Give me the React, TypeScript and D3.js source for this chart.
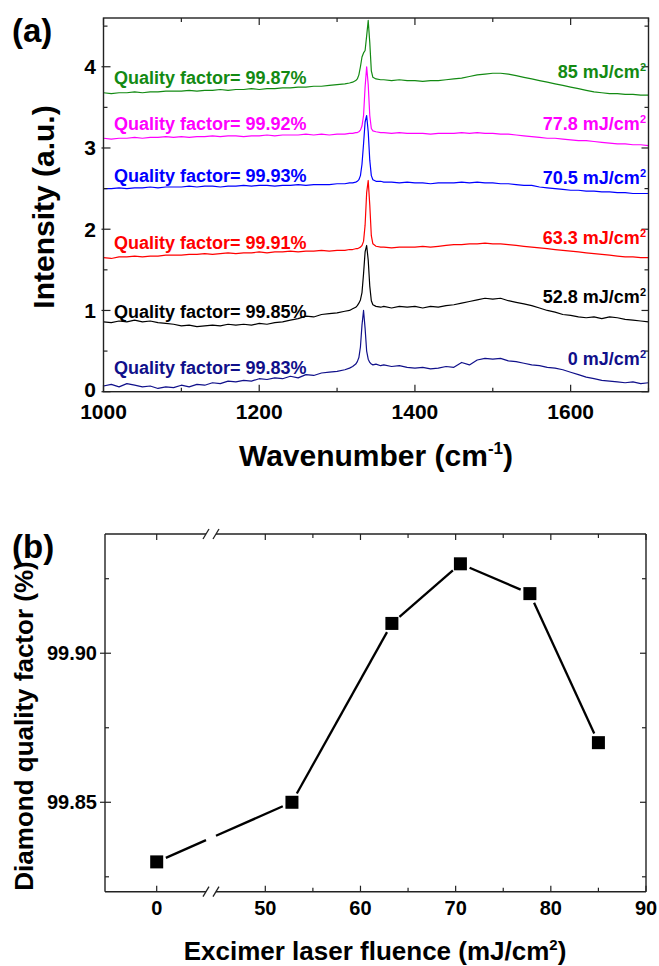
import React from "react";
import * as d3 from "d3";

// ---- Raman spectra (panel a) ----
const wavenumbers = [
  1000, 1010, 1020, 1030, 1040, 1050, 1060, 1070, 1080, 1090,
  1100, 1110, 1120, 1130, 1140, 1150, 1160, 1170, 1180, 1190,
  1200, 1210, 1220, 1230, 1240, 1250, 1260, 1270, 1280, 1290,
  1300, 1310,
  1316, 1320, 1324, 1326, 1328, 1330, 1332, 1334, 1336, 1338,
  1340, 1342, 1344, 1346, 1350, 1356,
  1360, 1370, 1380, 1390, 1400, 1410, 1420, 1430, 1440, 1450,
  1460, 1470, 1480, 1490, 1500, 1510, 1520, 1530, 1540, 1550,
  1560, 1570, 1580, 1590, 1600, 1610, 1620, 1630, 1640, 1650,
  1660, 1670, 1680, 1690, 1700,
];

const spectrum0 = [
  0.07, 0.09, 0.06, 0.10, 0.08, 0.06, 0.07, 0.04, 0.06, 0.05,
  0.08, 0.06, 0.09, 0.08, 0.11, 0.10, 0.13, 0.12, 0.14, 0.13,
  0.16, 0.15, 0.17, 0.16, 0.19, 0.17, 0.21, 0.20, 0.23, 0.24,
  0.25, 0.27,
  0.29, 0.31, 0.34, 0.37, 0.42, 0.55, 0.82, 1.00, 0.78, 0.50,
  0.40, 0.36, 0.34, 0.33, 0.34, 0.32,
  0.33, 0.31, 0.32, 0.30, 0.29, 0.30, 0.28, 0.29, 0.31, 0.30,
  0.36, 0.33, 0.39, 0.41, 0.40, 0.41, 0.38, 0.37, 0.35, 0.33,
  0.32, 0.30, 0.29, 0.27, 0.24, 0.21, 0.18, 0.16, 0.14, 0.13,
  0.12, 0.11, 0.12, 0.10, 0.11,
];

const spectrum52 = [
  0.86, 0.85, 0.87, 0.86, 0.88, 0.86, 0.87, 0.85, 0.84, 0.83,
  0.81, 0.82, 0.80, 0.81, 0.82, 0.81, 0.83, 0.82, 0.83, 0.82,
  0.84, 0.83, 0.85, 0.86, 0.88, 0.90, 0.93, 0.92, 0.95, 0.96,
  0.97, 0.99,
  1.00, 1.02, 1.04, 1.06, 1.09, 1.13, 1.22, 1.45, 1.72, 1.80,
  1.62, 1.30, 1.12, 1.07, 1.05, 1.04,
  1.05, 1.03, 1.05, 1.04, 1.05, 1.03, 1.05, 1.04, 1.06, 1.07,
  1.09, 1.11, 1.13, 1.15, 1.14, 1.15, 1.12, 1.10, 1.08, 1.06,
  1.03, 1.00, 0.98, 0.95, 0.94, 0.92, 0.91, 0.92, 0.90, 0.92,
  0.91, 0.89, 0.88, 0.87, 0.86,
];

const spectrum63 = [
  1.65, 1.64, 1.66, 1.66, 1.67, 1.66, 1.67, 1.67, 1.68, 1.68,
  1.68, 1.69, 1.69, 1.70, 1.69, 1.70, 1.71, 1.70, 1.71, 1.71,
  1.72, 1.71, 1.72, 1.72, 1.73, 1.72, 1.73, 1.73, 1.74, 1.73,
  1.74, 1.74,
  1.75, 1.75, 1.76, 1.76, 1.77, 1.78, 1.80, 1.85, 2.05, 2.45,
  2.60, 2.30, 1.92, 1.82, 1.79, 1.78,
  1.78, 1.77, 1.78, 1.78, 1.78, 1.79, 1.78, 1.79, 1.80, 1.81,
  1.81, 1.82, 1.82, 1.83, 1.82, 1.82, 1.81, 1.80, 1.79, 1.78,
  1.77, 1.76, 1.75, 1.74, 1.73, 1.72, 1.71, 1.70, 1.69, 1.68,
  1.67, 1.66, 1.66, 1.65, 1.65,
];

const spectrum70 = [
  2.50, 2.50, 2.51, 2.50, 2.51, 2.51, 2.52, 2.51, 2.52, 2.52,
  2.52, 2.53, 2.52, 2.53, 2.53, 2.52, 2.53, 2.53, 2.54, 2.53,
  2.54, 2.54, 2.53, 2.54, 2.54, 2.55, 2.54, 2.55, 2.55, 2.55,
  2.56, 2.56,
  2.57, 2.57, 2.58, 2.59, 2.61, 2.66, 2.80, 3.05, 3.32, 3.40,
  3.20, 2.85, 2.66, 2.61, 2.59, 2.59,
  2.58, 2.58, 2.57, 2.58, 2.57, 2.57, 2.56, 2.57, 2.57, 2.57,
  2.58, 2.57, 2.58, 2.57, 2.57, 2.56, 2.56, 2.55, 2.54, 2.54,
  2.52, 2.51, 2.50, 2.49, 2.48, 2.48, 2.47, 2.47, 2.46, 2.46,
  2.45, 2.45, 2.44, 2.44, 2.44,
];

const spectrum77 = [
  3.12, 3.11, 3.12, 3.12, 3.13, 3.12, 3.13, 3.13, 3.14, 3.13,
  3.14, 3.13, 3.14, 3.14, 3.15, 3.14, 3.15, 3.15, 3.14, 3.15,
  3.15, 3.16, 3.15, 3.16, 3.16, 3.16, 3.17, 3.16, 3.17, 3.16,
  3.17, 3.17,
  3.18, 3.18, 3.19, 3.19, 3.20, 3.22, 3.27, 3.40, 3.75, 4.00,
  3.78, 3.40, 3.24, 3.21, 3.20, 3.19,
  3.19, 3.18, 3.19, 3.18, 3.18, 3.18, 3.17, 3.18, 3.18, 3.18,
  3.19, 3.18, 3.19, 3.18, 3.18, 3.17, 3.17, 3.16, 3.15, 3.14,
  3.13, 3.12, 3.12, 3.11, 3.10, 3.09, 3.09, 3.08, 3.07, 3.06,
  3.05, 3.05, 3.04, 3.04, 3.03,
];

const spectrum85 = [
  3.68, 3.67, 3.68, 3.68, 3.69, 3.68, 3.69, 3.69, 3.70, 3.70,
  3.70, 3.71, 3.70, 3.71, 3.71, 3.72, 3.71, 3.72, 3.72, 3.73,
  3.72, 3.73, 3.73, 3.74, 3.74, 3.75, 3.75, 3.76, 3.76, 3.77,
  3.78, 3.79,
  3.80, 3.81, 3.83, 3.85, 3.90, 4.00, 4.12, 4.17, 4.20, 4.38,
  4.57, 4.30, 3.95, 3.87, 3.85, 3.84,
  3.84, 3.83, 3.84, 3.83, 3.83, 3.82, 3.83, 3.83, 3.84, 3.85,
  3.86, 3.88, 3.90, 3.91, 3.92, 3.92, 3.91, 3.89, 3.87, 3.85,
  3.83, 3.81, 3.79, 3.77, 3.75, 3.73, 3.71, 3.69, 3.68, 3.67,
  3.67, 3.66, 3.66, 3.65, 3.65,
];

const spectra = [spectrum0, spectrum52, spectrum63, spectrum70, spectrum77, spectrum85];
const fluenceLabels = ["0", "52.8", "63.3", "70.5", "77.8", "85"];
const qualityLabels = ["99.83", "99.85", "99.91", "99.93", "99.92", "99.87"];
const spectrumColors = ["#10108a", "#000000", "#ff0000", "#0000ff", "#ff00ff", "#138a13"];

const wnMajorTicks = [1000, 1200, 1400, 1600];
const wnMinorTicks = [1100, 1300, 1500, 1700];
const intensityMajorTicks = [0, 1, 2, 3, 4];
const intensityMinorTicks = [0.5, 1.5, 2.5, 3.5, 4.5];

// ---- Quality factor vs fluence (panel b) ----
const fluence = [0, 52.8, 63.3, 70.5, 77.8, 85];
const qualityFactor = [99.83, 99.85, 99.91, 99.93, 99.92, 99.87];
const fluenceMajorTicks = [0, 50, 60, 70, 80, 90];
const fluenceMinorTicks = [55, 65, 75, 85];
const qfMajorTicks = [99.85, 99.9];
const qfMinorTicks = [99.825, 99.875, 99.925];

const FONT = "'Liberation Sans', Arial, Helvetica, sans-serif";
const AXIS = "#222";

const A = { left: 103.5, right: 648.5, top: 18, bottom: 391.7 };
const B = { left: 105, right: 646, top: 534, bottom: 891.7 };

// text baselines for the annotations of panel a (pixels)
const qfLabelY = [374, 318, 249, 182, 130, 84];
const fluenceLabelY = [365, 303, 244, 184, 130, 78];

export default function App() {
  const xA = d3.scaleLinear().domain([1000, 1700]).range([A.left, A.right]);
  const yA = d3.scaleLinear().domain([0, 4.6]).range([A.bottom, A.top]);

  // broken fluence axis: 0 sits just right of the frame, 50–90 fill the rest
  const xB = d3
    .scaleLinear()
    .domain([-5.4, 0, 50, 90])
    .range([B.left, 156.7, 265.3, B.right]);
  const yB = d3.scaleLinear().domain([99.82, 99.94]).range([B.bottom, B.top]);
  const breakX = xB(25);

  const line = d3
    .line<number>()
    .x((_, i) => xA(wavenumbers[i]))
    .y((d) => yA(d));

  // connecting segments of panel b, trimmed around each marker
  const pts = fluence.map((f, i) => [xB(f), yB(qualityFactor[i])] as [number, number]);
  const gap = 10;
  const segs: [number, number, number, number][] = [];
  for (let i = 0; i < pts.length - 1; i++) {
    const [x1, y1] = pts[i];
    const [x2, y2] = pts[i + 1];
    const len = Math.hypot(x2 - x1, y2 - y1);
    const ux = (x2 - x1) / len;
    const uy = (y2 - y1) / len;
    const sx = x1 + ux * gap, sy = y1 + uy * gap;
    const ex = x2 - ux * gap, ey = y2 - uy * gap;
    if (x1 < breakX && x2 > breakX) {
      const t1 = (breakX - 5 - x1) / (x2 - x1);
      const t2 = (breakX + 5 - x1) / (x2 - x1);
      segs.push([sx, sy, x1 + t1 * (x2 - x1), y1 + t1 * (y2 - y1)]);
      segs.push([x1 + t2 * (x2 - x1), y1 + t2 * (y2 - y1), ex, ey]);
    } else {
      segs.push([sx, sy, ex, ey]);
    }
  }

  const slash = (cx: number, cy: number) => (
    <line x1={cx - 3} y1={cy + 5} x2={cx + 3} y2={cy - 5} stroke={AXIS} strokeWidth={1.3} />
  );

  return (
    <svg
      width={659}
      height={966}
      viewBox="0 0 659 966"
      style={{ position: "absolute", left: 0, top: 0, background: "#fff" }}
      fontFamily={FONT}
      fontWeight="bold"
    >
      <rect width={659} height={966} fill="#fff" />
      <defs>
        <clipPath id="clipA">
          <rect x={A.left} y={A.top} width={A.right - A.left} height={A.bottom - A.top} />
        </clipPath>
      </defs>

      {/* ---------- panel (a) ---------- */}
      <text x={12} y={42} fontSize={33}>(a)</text>

      <g clipPath="url(#clipA)">
        {spectra.map((s, i) => (
          <path key={i} d={line(s) || ""} fill="none" stroke={spectrumColors[i]} strokeWidth={1.2} strokeLinejoin="round" />
        ))}
      </g>

      <rect x={A.left} y={A.top} width={A.right - A.left} height={A.bottom - A.top} fill="none" stroke={AXIS} strokeWidth={1.4} />

      {wnMajorTicks.map((t) => (
        <g key={"wm" + t}>
          <line x1={xA(t)} x2={xA(t)} y1={A.bottom} y2={A.bottom - 7} stroke={AXIS} strokeWidth={1.2} />
          <line x1={xA(t)} x2={xA(t)} y1={A.top} y2={A.top + 7} stroke={AXIS} strokeWidth={1.2} />
          <text x={xA(t)} y={419} fontSize={21} textAnchor="middle">{t}</text>
        </g>
      ))}
      {wnMinorTicks.map((t) => (
        <g key={"wn" + t}>
          <line x1={xA(t)} x2={xA(t)} y1={A.bottom} y2={A.bottom - 4} stroke={AXIS} strokeWidth={1.2} />
          <line x1={xA(t)} x2={xA(t)} y1={A.top} y2={A.top + 4} stroke={AXIS} strokeWidth={1.2} />
        </g>
      ))}
      {intensityMajorTicks.map((t) => (
        <g key={"im" + t}>
          <line x1={A.left - 2} x2={A.left + 7} y1={yA(t)} y2={yA(t)} stroke={AXIS} strokeWidth={1.2} />
          <line x1={A.right} x2={A.right - 7} y1={yA(t)} y2={yA(t)} stroke={AXIS} strokeWidth={1.2} />
          <text x={96} y={yA(t) + (t === 0 ? 5.5 : 7.5)} fontSize={21} textAnchor="end">{t}</text>
        </g>
      ))}
      {intensityMinorTicks.map((t) => (
        <g key={"in" + t}>
          <line x1={A.left} x2={A.left + 4} y1={yA(t)} y2={yA(t)} stroke={AXIS} strokeWidth={1.2} />
          <line x1={A.right} x2={A.right - 4} y1={yA(t)} y2={yA(t)} stroke={AXIS} strokeWidth={1.2} />
        </g>
      ))}

      {spectra.map((_, i) => (
        <g key={"lab" + i} fill={spectrumColors[i]}>
          <text x={114} y={qfLabelY[i]} fontSize={18}>
            Quality factor= {qualityLabels[i]}%
          </text>
          <text x={646} y={fluenceLabelY[i]} fontSize={18} textAnchor="end">
            {fluenceLabels[i]} mJ/cm<tspan dy={-7} fontSize={11}>2</tspan>
          </text>
        </g>
      ))}

      <text transform="translate(54,207) rotate(-90)" fontSize={30} textAnchor="middle">
        Intensity (a.u.)
      </text>
      <text x={376} y={466} fontSize={30} textAnchor="middle">
        Wavenumber (cm<tspan dy={-12} fontSize={17}>-1</tspan><tspan dy={12}>)</tspan>
      </text>

      {/* ---------- panel (b) ---------- */}
      {/* frame, with the break gap on top and bottom edges */}
      <line x1={B.left} x2={B.left} y1={B.top} y2={B.bottom} stroke={AXIS} strokeWidth={1.4} />
      <line x1={B.right} x2={B.right} y1={B.top} y2={B.bottom} stroke={AXIS} strokeWidth={1.4} />
      {[B.top, B.bottom].map((y) => (
        <g key={"h" + y}>
          <line x1={B.left} x2={breakX - 5} y1={y} y2={y} stroke={AXIS} strokeWidth={1.4} />
          <line x1={breakX + 5} x2={B.right} y1={y} y2={y} stroke={AXIS} strokeWidth={1.4} />
          {slash(breakX - 5, y)}
          {slash(breakX + 5, y)}
        </g>
      ))}

      {fluenceMajorTicks.map((t) => (
        <g key={"fm" + t}>
          <line x1={xB(t)} x2={xB(t)} y1={B.bottom} y2={B.bottom - 6} stroke={AXIS} strokeWidth={1.2} />
          <line x1={xB(t)} x2={xB(t)} y1={B.top} y2={B.top + 6} stroke={AXIS} strokeWidth={1.2} />
          <text x={xB(t)} y={915} fontSize={20} textAnchor="middle">{t}</text>
        </g>
      ))}
      {fluenceMinorTicks.map((t) => (
        <g key={"fn" + t}>
          <line x1={xB(t)} x2={xB(t)} y1={B.bottom} y2={B.bottom - 4} stroke={AXIS} strokeWidth={1.2} />
          <line x1={xB(t)} x2={xB(t)} y1={B.top} y2={B.top + 4} stroke={AXIS} strokeWidth={1.2} />
        </g>
      ))}
      {qfMajorTicks.map((t) => (
        <g key={"qm" + t}>
          <line x1={B.left - 5} x2={B.left + 6} y1={yB(t)} y2={yB(t)} stroke={AXIS} strokeWidth={1.2} />
          <line x1={B.right} x2={B.right - 6} y1={yB(t)} y2={yB(t)} stroke={AXIS} strokeWidth={1.2} />
          <text x={97} y={yB(t) + 7} fontSize={20} textAnchor="end">{t.toFixed(2)}</text>
        </g>
      ))}
      {qfMinorTicks.map((t) => (
        <g key={"qn" + t}>
          <line x1={B.left} x2={B.left + 4} y1={yB(t)} y2={yB(t)} stroke={AXIS} strokeWidth={1.2} />
          <line x1={B.right} x2={B.right - 4} y1={yB(t)} y2={yB(t)} stroke={AXIS} strokeWidth={1.2} />
        </g>
      ))}

      {segs.map((s, i) => (
        <line key={"s" + i} x1={s[0]} y1={s[1]} x2={s[2]} y2={s[3]} stroke="#000" strokeWidth={2.3} />
      ))}
      {pts.map(([x, y], i) => (
        <rect key={"p" + i} x={x - 6.5} y={y - 6.5} width={13} height={13} fill="#000" />
      ))}

      <text transform="translate(33,726) rotate(-90)" fontSize={26} textAnchor="middle">
        Diamond quality factor (%)
      </text>
      <text x={12} y={558} fontSize={33}>(b)</text>
      <text x={375} y={960} fontSize={26} textAnchor="middle">
        Excimer laser fluence (mJ/cm<tspan dy={-10} fontSize={15}>2</tspan><tspan dy={10}>)</tspan>
      </text>
    </svg>
  );
}
